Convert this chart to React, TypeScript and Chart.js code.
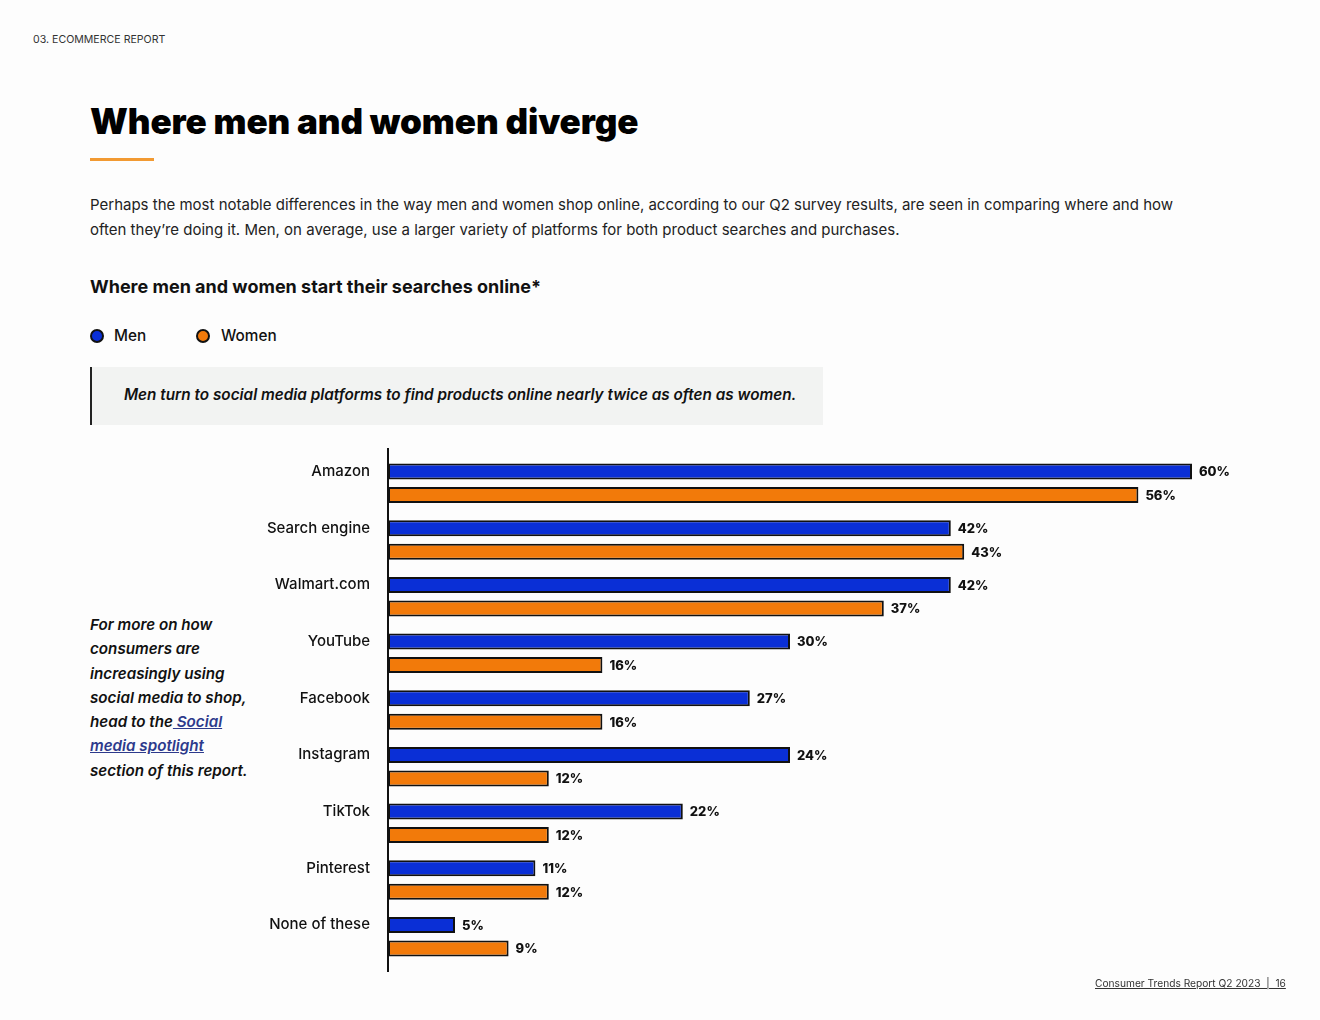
import React, { useEffect, useRef } from "react";
import { Chart, registerables } from "chart.js";

Chart.register(...registerables);

const categories = [
  "Amazon",
  "Search engine",
  "Walmart.com",
  "YouTube",
  "Facebook",
  "Instagram",
  "TikTok",
  "Pinterest",
  "None of these",
];
// bar lengths as drawn in the reference (Instagram men bar is drawn at the same length as YouTube)
const menValues = [60, 42, 42, 30, 27, 30, 22, 11, 5];
const womenValues = [56, 43, 37, 16, 16, 12, 12, 12, 9];
// value labels as printed in the reference
const menLabels = ["60%", "42%", "42%", "30%", "27%", "24%", "22%", "11%", "5%"];
const womenLabels = ["56%", "43%", "37%", "16%", "16%", "12%", "12%", "12%", "9%"];
const seriesNames = ["Men", "Women"];

const BLUE = "#0a2fd6";
const ORANGE = "#f27a0a";
const FONT = "Inter, 'Open Sans', sans-serif";

export default function App() {
  const canvasRef = useRef<HTMLCanvasElement | null>(null);

  useEffect(() => {
    const canvas = canvasRef.current;
    if (!canvas) return;
    const allLabels = [menLabels, womenLabels];

    const axisLine = {
      id: "axisLine",
      afterDatasetsDraw(chart: any) {
        const { ctx, chartArea } = chart;
        ctx.save();
        ctx.strokeStyle = "#111";
        ctx.lineWidth = 2;
        ctx.beginPath();
        ctx.moveTo(chartArea.left, chartArea.top - 7);
        ctx.lineTo(chartArea.left, chartArea.bottom + 7);
        ctx.stroke();
        ctx.fillStyle = "#111";
        ctx.font = `800 13px ${FONT}`;
        ctx.textBaseline = "middle";
        ctx.textAlign = "left";
        chart.data.datasets.forEach((_d: any, di: number) => {
          const meta = chart.getDatasetMeta(di);
          meta.data.forEach((el: any, i: number) => {
            ctx.fillText(allLabels[di][i], el.x + 7, el.y + 1);
          });
        });
        ctx.restore();
      },
    };

    const chart = new Chart(canvas, {
      type: "bar",
      data: {
        labels: categories,
        datasets: [
          {
            label: seriesNames[0],
            data: menValues,
            backgroundColor: BLUE,
            borderColor: "#111",
            borderWidth: 2,
            borderSkipped: false,
            categoryPercentage: 0.83,
            barPercentage: 0.68,
          },
          {
            label: seriesNames[1],
            data: womenValues,
            backgroundColor: ORANGE,
            borderColor: "#111",
            borderWidth: 2,
            borderSkipped: false,
            categoryPercentage: 0.83,
            barPercentage: 0.68,
          },
        ],
      },
      options: {
        indexAxis: "y",
        responsive: false,
        animation: false,
        devicePixelRatio: 1,
        layout: { padding: { top: 14.6, bottom: 15.3, right: 61, left: 0 } },
        plugins: {
          legend: { display: false },
          tooltip: { enabled: false },
        },
        scales: {
          x: { display: false, min: 0, max: 65 },
          y: {
            grid: { display: false, drawTicks: false },
            border: { display: false },
            ticks: {
              color: "#111",
              padding: 18,
              labelOffset: -11.7,
              font: { family: FONT, size: 15, weight: "500" },
            },
            afterFit(scale: any) {
              scale.width = 138;
            },
          },
        },
      } as any,
      plugins: [axisLine],
    });
    return () => chart.destroy();
  }, []);

  const abs = (s: React.CSSProperties): React.CSSProperties => ({ position: "absolute", ...s });

  return (
    <div
      style={{
        position: "absolute",
        left: 0,
        top: 0,
        width: 1320,
        height: 1020,
        background: "#fdfdfd",
        fontFamily: FONT,
        color: "#1a1a1a",
        overflow: "hidden",
      }}
    >
      <div style={abs({ left: 33, top: 33, fontSize: 10.6, color: "#333", lineHeight: "14px" })}>
        03. ECOMMERCE REPORT
      </div>
      <div
        style={abs({
          left: 90,
          top: 98,
          fontSize: 35,
          fontWeight: 900,
          color: "#000",
          letterSpacing: -0.1,
          whiteSpace: "nowrap",
          lineHeight: "46px",
        })}
      >
        Where men and women diverge
      </div>
      <div style={abs({ left: 90, top: 158, width: 64, height: 3, background: "#f29a32" })} />
      <div
        style={abs({
          left: 90,
          top: 192,
          fontSize: 15,
          lineHeight: "25px",
          color: "#222",
          whiteSpace: "nowrap",
        })}
      >
        Perhaps the most notable differences in the way men and women shop online, according to our Q2 survey results, are seen in comparing where and how
        <br />
        often they’re doing it. Men, on average, use a larger variety of platforms for both product searches and purchases.
      </div>
      <div
        style={abs({
          left: 90,
          top: 276,
          fontSize: 18,
          fontWeight: 700,
          color: "#111",
          whiteSpace: "nowrap",
          lineHeight: "22px",
        })}
      >
        Where men and women start their searches online*
      </div>
      {/* legend */}
      <div style={abs({ left: 90, top: 329, width: 14, height: 14, borderRadius: "50%", background: BLUE, border: "2px solid #111", boxSizing: "border-box" })} />
      <div style={abs({ left: 114, top: 326, fontSize: 15.3, fontWeight: 500, lineHeight: "20px", color: "#111" })}>{seriesNames[0]}</div>
      <div style={abs({ left: 196, top: 329, width: 14, height: 14, borderRadius: "50%", background: ORANGE, border: "2px solid #111", boxSizing: "border-box" })} />
      <div style={abs({ left: 221, top: 326, fontSize: 15.3, fontWeight: 500, lineHeight: "20px", color: "#111" })}>{seriesNames[1]}</div>
      {/* callout */}
      <div
        style={abs({
          left: 90,
          top: 367,
          width: 733,
          height: 58,
          background: "#f2f3f2",
          borderLeft: "2px solid #222",
          boxSizing: "border-box",
        })}
      />
      <div
        style={abs({
          left: 124,
          top: 385,
          fontSize: 15.3,
          fontWeight: 600,
          fontStyle: "italic",
          lineHeight: "20px",
          color: "#111",
          whiteSpace: "nowrap",
        })}
      >
        Men turn to social media platforms to find products online nearly twice as often as women.
      </div>
      {/* side note */}
      <div
        style={abs({
          left: 90,
          top: 613,
          fontSize: 15.2,
          fontWeight: 600,
          fontStyle: "italic",
          lineHeight: "24.3px",
          color: "#111",
          whiteSpace: "nowrap",
        })}
      >
        For more on how
        <br />
        consumers are
        <br />
        increasingly using
        <br />
        social media to shop,
        <br />
        head to the
        <span style={{ color: "#2d3a8c", textDecoration: "underline" }}> Social</span>
        <br />
        <span style={{ color: "#2d3a8c", textDecoration: "underline" }}>media spotlight</span>
        <br />
        section of this report.
      </div>
      <canvas
        ref={canvasRef}
        width={1070}
        height={564}
        style={abs({ left: 250, top: 428, width: 1070, height: 564 })}
      />
      <div
        style={abs({
          left: 1095,
          top: 976,
          fontSize: 10.2,
          color: "#333",
          textDecoration: "underline",
          whiteSpace: "nowrap",
          lineHeight: "14px",
        })}
      >
        Consumer Trends Report Q2 2023 &nbsp;|&nbsp; 16
      </div>
    </div>
  );
}
